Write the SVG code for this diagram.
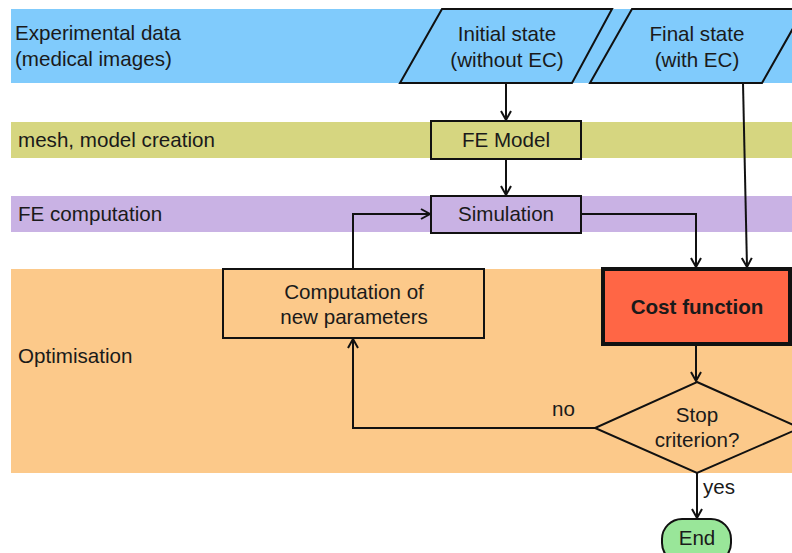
<svg xmlns="http://www.w3.org/2000/svg" width="792" height="553" viewBox="0 0 792 553">
<defs>
<marker id="arr" markerUnits="userSpaceOnUse" markerWidth="16" markerHeight="16" viewBox="-10 -8 12 16" refX="0" refY="0" orient="auto">
<path d="M-9,-5 L0,0 L-9,5" fill="none" stroke="#111" stroke-width="2"/>
</marker>
</defs>
<style>
text{font-family:"Liberation Sans",Arial,sans-serif;font-size:20.6px;fill:#1a1a1a}
.c{text-anchor:middle}
.b{font-weight:bold}
.box{stroke:#111;stroke-width:2}
.edge{fill:none;stroke:#111;stroke-width:2;marker-end:url(#arr)}
</style>
<g id="bands">
<rect x="11" y="9" width="781" height="74" fill="#80cbfc"/>
<rect x="11" y="122" width="781" height="36" fill="#d6d680"/>
<rect x="11" y="196" width="781" height="36" fill="#c9b2e4"/>
<rect x="11" y="269" width="781" height="204" fill="#fcc98a"/>
<text x="15" y="40">Experimental data</text>
<text x="15" y="66">(medical images)</text>
<text x="18" y="147">mesh, model creation</text>
<text x="18" y="221">FE computation</text>
<text x="18" y="363">Optimisation</text>
</g>
<g id="connectors">
<path class="edge" d="M506,83 V120"/>
<path class="edge" d="M506,159 V195"/>
<path class="edge" d="M581,214 H696 V267"/>
<path class="edge" d="M743,83 L747,267"/>
<path class="edge" d="M353,269 V214 H430"/>
<path class="edge" d="M696,344 V381"/>
<path class="edge" d="M595,428 H353 V339"/>
<path class="edge" d="M697,473 V518"/>
<text x="552" y="416">no</text>
<text x="703" y="494">yes</text>
</g>
<g id="initial">
<polygon class="box" points="442,9 612,9 572,83 400,83" fill="#80cbfc"/>
<text class="c" x="507" y="41">Initial state</text>
<text class="c" x="507" y="67">(without EC)</text>
</g>
<g id="final">
<polygon class="box" points="632,9 804,9 762,83 590,83" fill="#80cbfc"/>
<text class="c" x="697" y="41">Final state</text>
<text class="c" x="697" y="67">(with EC)</text>
</g>
<g id="femodel">
<rect class="box" x="431" y="121" width="150" height="38" fill="#d6d680"/>
<text class="c" x="506" y="147">FE Model</text>
</g>
<g id="simulation">
<rect class="box" x="431" y="196" width="150" height="37" fill="#c9b2e4"/>
<text class="c" x="506" y="221">Simulation</text>
</g>
<g id="computation">
<rect class="box" x="223" y="269" width="261" height="69" fill="#fcc98a"/>
<text class="c" x="354" y="299">Computation of</text>
<text class="c" x="354" y="324">new parameters</text>
</g>
<g id="cost">
<rect x="603" y="269" width="187" height="75" fill="#ff6645" stroke="#111" stroke-width="4"/>
<text class="c b" x="697" y="314">Cost function</text>
</g>
<g id="stop">
<polygon class="box" points="697,382 800,428 697,473 595,428" fill="#fcc98a"/>
<text class="c" x="697" y="422">Stop</text>
<text class="c" x="697" y="447">criterion?</text>
</g>
<g id="end">
<rect class="box" x="662" y="519" width="69" height="44" rx="20" fill="#99e699"/>
<text class="c" x="697" y="545">End</text>
</g>
</svg>
